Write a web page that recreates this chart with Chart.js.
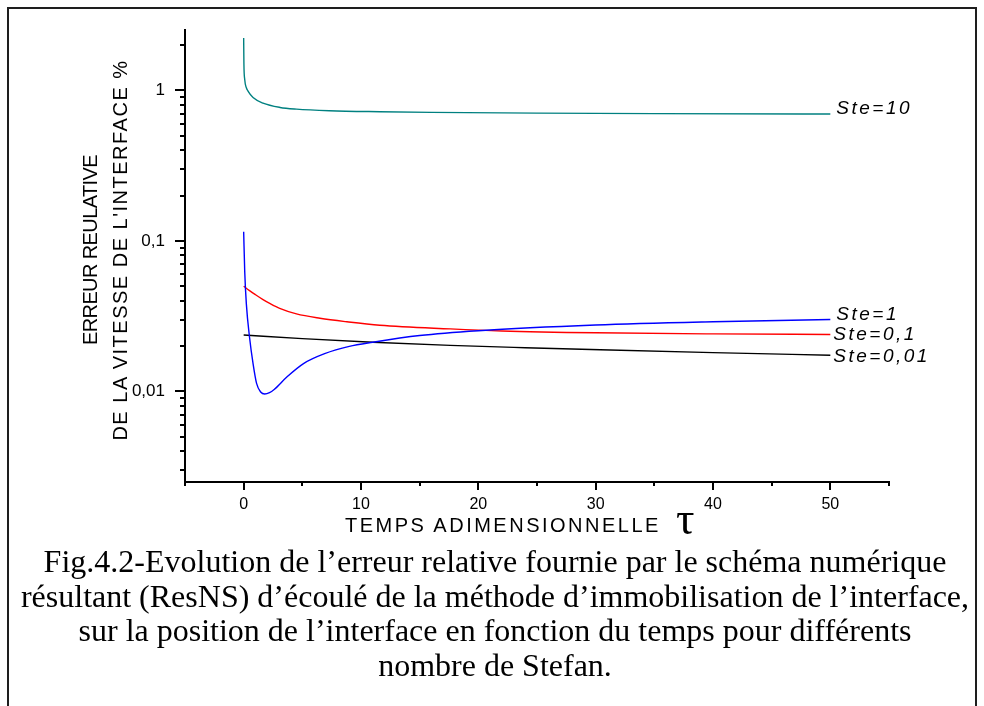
<!DOCTYPE html>
<html lang="fr">
<head>
<meta charset="utf-8">
<title>Fig.4.2 - erreur relative</title>
<script src="https://cdn.jsdelivr.net/npm/chart.js@4.4.1/dist/chart.umd.min.js"></script>
<style>
  html, body { margin: 0; padding: 0; background: #fff; }
  body { width: 984px; height: 706px; position: relative; overflow: hidden; font-family: "Liberation Sans", Arial, sans-serif; color: #000; }
  #frame { position: absolute; left: 7px; top: 7px; width: 966px; height: 760px; border: 2px solid #1e1e1e; border-bottom: none; }
  #plot { position: absolute; left: 0; top: 0; width: 984px; height: 545px; }
  #ytitle { position: absolute; left: -105px; top: 220px; width: 420px; height: 60px; transform: rotate(-90deg); text-align: center; font-size: 20px; line-height: 30px; letter-spacing: 1.5px; white-space: nowrap; }
  #ytitle .l1 { letter-spacing: -0.6px; }
  #xtitle { position: absolute; left: 345px; top: 513px; font-size: 20px; line-height: 24px; letter-spacing: 2.5px; white-space: nowrap; }
  #xtitle .tau { position: absolute; left: 331px; top: -17px; font-family: "Liberation Serif", serif; font-size: 46px; line-height: 46px; letter-spacing: 0; }
  #caption { position: absolute; left: 0; top: 544px; width: 990px; text-align: center; font-family: "Liberation Serif", "DejaVu Serif", serif; font-size: 32px; line-height: 34.5px; white-space: nowrap; }
</style>
</head>
<body>
<div id="frame"></div>
<div id="plot"><canvas id="chart"></canvas></div>
<div id="ytitle"><span class="l1">ERREUR REULATIVE</span><br>DE LA VITESSE DE L'INTERFACE %</div>
<div id="xtitle">TEMPS ADIMENSIONNELLE<span class="tau">τ</span></div>
<div id="caption">Fig.4.2-Evolution de l’erreur relative fournie par le schéma numérique<br>résultant (ResNS) d’écoulé de la méthode d’immobilisation de l’interface,<br>sur la position de l’interface en fonction du temps pour différents<br>nombre de Stefan.</div>
<script>
// values (tau, relative error %)
const tauSte10 = [0, 0.02, 0.09, 0.23, 0.37, 0.8, 1.65, 3.1, 4.5, 7.3, 11.6, 16, 25, 35, 50];
const errSte10 = [2.23, 1.52, 1.18, 1.04, 0.99, 0.896, 0.822, 0.77, 0.75, 0.732, 0.721, 0.714, 0.706, 0.701, 0.696];

const tauSte1 = [0, 0.09, 0.23, 0.5, 0.8, 1.1, 1.45, 1.8, 2.2, 2.6, 3.7, 5.1, 6.9, 9, 11, 15, 20, 30, 40, 50];
const errSte1 = [0.115, 0.0626, 0.038, 0.0229, 0.0153, 0.0113, 0.0099, 0.0096, 0.0098, 0.0103, 0.0125, 0.0153, 0.0178, 0.0199, 0.0212, 0.0235, 0.0253, 0.0276, 0.029, 0.03];

const tauSte01 = [0, 0.5, 1, 1.65, 2.3, 3.07, 4.5, 6.5, 8.8, 11.6, 17.6, 22, 30, 40, 50];
const errSte01 = [0.0499, 0.0467, 0.0439, 0.0407, 0.0381, 0.0356, 0.0327, 0.0306, 0.029, 0.0275, 0.026, 0.0252, 0.0245, 0.0241, 0.0239];

const tauSte001 = [0, 5, 11, 17.6, 24, 30.4, 40, 50];
const errSte001 = [0.0237, 0.0224, 0.0212, 0.0202, 0.0195, 0.0189, 0.0181, 0.0174];

const seriesNames = ["Ste=10", "Ste=1", "Ste=0,1", "Ste=0,01"];
const seriesColors = ["#008080", "#0000ff", "#ff0000", "#000000"];
const labelShift = [[6, -5], [6, -5], [3, 0], [3, 2]];

const xMajorTicks = [0, 10, 20, 30, 40, 50];
const yMajorTicks = [0.01, 0.1, 1];
const yMajorLabels = ["0,01", "0,1", "1"];
const yMinorTicks = [0.003, 0.004, 0.005, 0.006, 0.007, 0.008, 0.009,
  0.02, 0.03, 0.04, 0.05, 0.06, 0.07, 0.08, 0.09,
  0.2, 0.3, 0.4, 0.5, 0.6, 0.7, 0.8, 0.9, 2];

function pairs(xs, ys) {
  return xs.map((x, i) => ({ x: x, y: ys[i] }));
}

// axis ticks: long for labelled values, short otherwise
const tickMarks = {
  id: "tickMarks",
  afterDraw(chart) {
    const { ctx, chartArea: a, scales } = chart;
    ctx.save();
    ctx.strokeStyle = "#000";
    ctx.lineWidth = 2;
    ctx.beginPath();
    scales.y.ticks.forEach((t) => {
      const py = Math.round(scales.y.getPixelForValue(t.value));
      const len = yMajorTicks.includes(t.value) ? 10 : 5;
      ctx.moveTo(a.left - len, py);
      ctx.lineTo(a.left, py);
    });
    scales.x.ticks.forEach((t) => {
      const px = Math.round(scales.x.getPixelForValue(t.value));
      const len = xMajorTicks.includes(t.value) ? 8 : 4;
      ctx.moveTo(px, a.bottom);
      ctx.lineTo(px, a.bottom + len);
    });
    ctx.stroke();
    ctx.restore();
  },
};

// "Ste=..." names at the end of each curve
const curveLabels = {
  id: "curveLabels",
  afterDatasetsDraw(chart) {
    const ctx = chart.ctx;
    ctx.save();
    ctx.font = "italic 19px 'Liberation Sans', Arial, sans-serif";
    ctx.letterSpacing = "2.5px";
    ctx.fillStyle = "#000";
    ctx.textBaseline = "middle";
    ctx.textAlign = "left";
    chart.data.datasets.forEach((ds, i) => {
      const pts = chart.getDatasetMeta(i).data;
      const p = pts[pts.length - 1];
      ctx.fillText(seriesNames[i], p.x + labelShift[i][0], p.y + labelShift[i][1]);
    });
    ctx.restore();
  },
};

function initChart() {
  const ctx = document.getElementById("chart").getContext("2d");
  const lists = [
    pairs(tauSte10, errSte10),
    pairs(tauSte1, errSte1),
    pairs(tauSte01, errSte01),
    pairs(tauSte001, errSte001),
  ];
  new Chart(ctx, {
    type: "line",
    data: {
      datasets: lists.map((d, i) => ({
        label: seriesNames[i],
        data: d,
        borderColor: seriesColors[i],
        borderWidth: 1.4,
        pointRadius: 0,
        cubicInterpolationMode: "monotone",
        fill: false,
      })),
    },
    options: {
      responsive: true,
      maintainAspectRatio: false,
      animation: false,
      devicePixelRatio: 1,
      layout: { padding: { left: 0, top: 25, right: 95, bottom: 0 } },
      plugins: { legend: { display: false }, tooltip: { enabled: false } },
      scales: {
        x: {
          type: "linear",
          min: -5,
          max: 55,
          afterFit: (s) => { s.height = 63; },
          grid: { display: false, drawTicks: false },
          border: { display: true, color: "#000", width: 2 },
          ticks: {
            stepSize: 5,
            autoSkip: false,
            maxRotation: 0,
            padding: 13,
            color: "#000",
            font: { family: "'Liberation Sans', Arial, sans-serif", size: 16 },
            callback: (v) => (xMajorTicks.includes(v) ? String(v) : ""),
          },
        },
        y: {
          type: "logarithmic",
          min: 0.0025,
          max: 2.51,
          afterFit: (s) => { s.width = 185; },
          afterBuildTicks: (s) => {
            s.ticks = yMinorTicks.concat(yMajorTicks).sort((a, b) => a - b).map((v) => ({ value: v }));
          },
          grid: { display: false, drawTicks: false },
          border: { display: true, color: "#000", width: 2 },
          ticks: {
            autoSkip: false,
            padding: 20,
            color: "#000",
            font: { family: "'Liberation Sans', Arial, sans-serif", size: 17 },
            callback: (v) => {
              const k = yMajorTicks.indexOf(v);
              return k >= 0 ? yMajorLabels[k] : "";
            },
          },
        },
      },
    },
    plugins: [tickMarks, curveLabels],
  });
}

document.addEventListener("DOMContentLoaded", initChart);
</script>
</body>
</html>
